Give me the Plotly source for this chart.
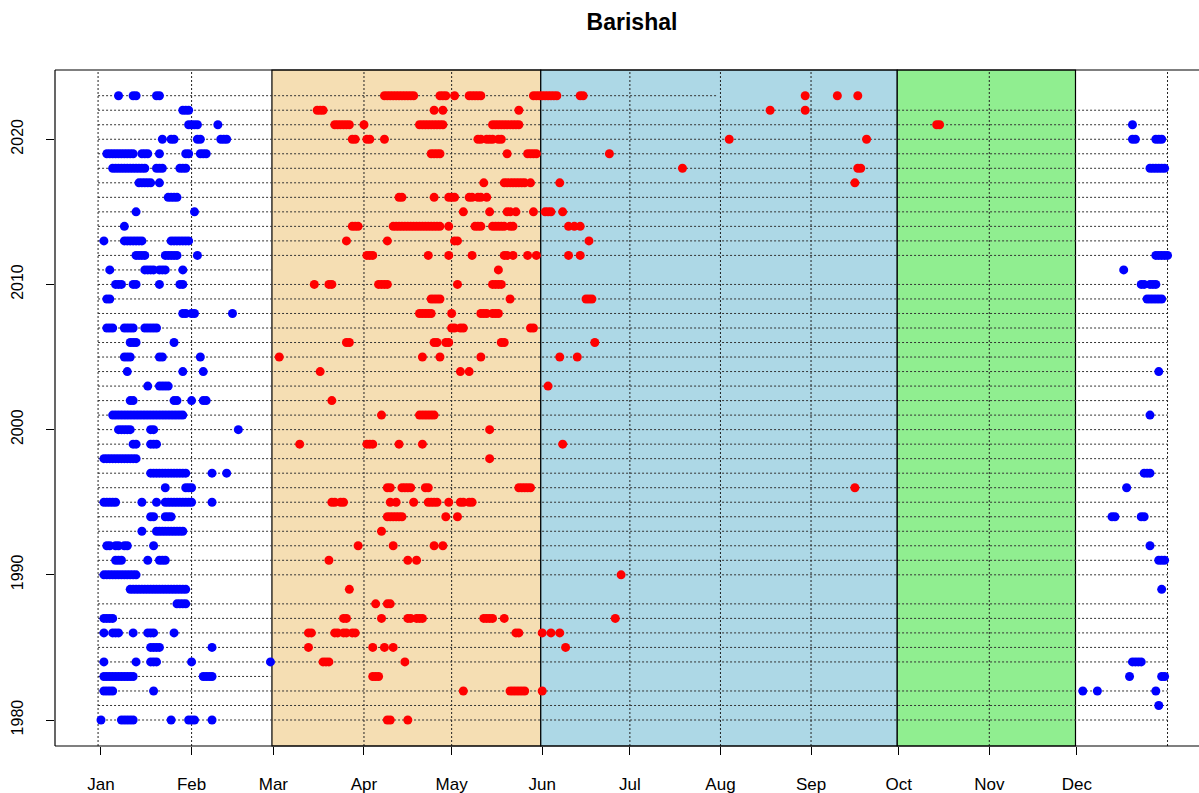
import plotly.graph_objects as go

# ---------------- data ----------------
# runs of consecutive event days: (year, first day-of-year, last day-of-year)
blue_runs = [
    (2023, 7, 7), (2023, 12, 13), (2023, 20, 21),
    (2022, 29, 31),
    (2021, 31, 34), (2021, 41, 41), (2021, 354, 354),
    (2020, 22, 22), (2020, 25, 26), (2020, 34, 35), (2020, 42, 44), (2020, 354, 355), (2020, 362, 364),
    (2019, 3, 12), (2019, 15, 17), (2019, 21, 21), (2019, 30, 31), (2019, 35, 37),
    (2018, 5, 16), (2018, 20, 22), (2018, 28, 30), (2018, 360, 365),
    (2017, 14, 18), (2017, 21, 21),
    (2016, 24, 27),
    (2015, 13, 13), (2015, 33, 33),
    (2014, 9, 9),
    (2013, 2, 2), (2013, 9, 15), (2013, 25, 31),
    (2012, 13, 16), (2012, 23, 27), (2012, 34, 34), (2012, 362, 366),
    (2011, 4, 4), (2011, 16, 19), (2011, 21, 23), (2011, 29, 29), (2011, 351, 351),
    (2010, 6, 8), (2010, 12, 13), (2010, 21, 21), (2010, 28, 29), (2010, 357, 358), (2010, 360, 362),
    (2009, 3, 4), (2009, 359, 364),
    (2008, 29, 30), (2008, 32, 33), (2008, 46, 46),
    (2007, 3, 5), (2007, 9, 12), (2007, 16, 20),
    (2006, 11, 13), (2006, 26, 26),
    (2005, 9, 11), (2005, 21, 22), (2005, 35, 35),
    (2004, 10, 10), (2004, 29, 29), (2004, 36, 36), (2004, 363, 363),
    (2003, 17, 17), (2003, 21, 24),
    (2002, 11, 12), (2002, 26, 27), (2002, 32, 32), (2002, 36, 37),
    (2001, 5, 29), (2001, 360, 360),
    (2000, 7, 11), (2000, 18, 19), (2000, 48, 48),
    (1999, 12, 13), (1999, 18, 20),
    (1998, 2, 13),
    (1997, 18, 30), (1997, 39, 39), (1997, 44, 44), (1997, 358, 360),
    (1996, 23, 23), (1996, 30, 32), (1996, 352, 352),
    (1995, 2, 6), (1995, 15, 15), (1995, 20, 20), (1995, 23, 32), (1995, 39, 39),
    (1994, 18, 19), (1994, 23, 25), (1994, 347, 348), (1994, 357, 358),
    (1993, 15, 15), (1993, 20, 29),
    (1992, 3, 4), (1992, 6, 7), (1992, 9, 10), (1992, 19, 19), (1992, 360, 360),
    (1991, 6, 8), (1991, 17, 17), (1991, 21, 23), (1991, 363, 365),
    (1990, 2, 13),
    (1989, 11, 30), (1989, 364, 364),
    (1988, 27, 30),
    (1987, 2, 5),
    (1986, 2, 2), (1986, 5, 7), (1986, 12, 12), (1986, 17, 19), (1986, 26, 26),
    (1985, 18, 21), (1985, 39, 39),
    (1984, 2, 2), (1984, 13, 13), (1984, 18, 20), (1984, 32, 32), (1984, 59, 59), (1984, 354, 357),
    (1983, 2, 12), (1983, 36, 39), (1983, 353, 353), (1983, 364, 365),
    (1982, 2, 5), (1982, 19, 19), (1982, 337, 337), (1982, 342, 342), (1982, 362, 362),
    (1981, 363, 363),
    (1980, 1, 1), (1980, 8, 12), (1980, 25, 25), (1980, 31, 33), (1980, 39, 39),
]

red_runs = [
    (2023, 98, 108), (2023, 117, 119), (2023, 122, 122), (2023, 127, 131), (2023, 149, 157),
    (2023, 165, 166), (2023, 242, 242), (2023, 253, 253), (2023, 260, 260),
    (2022, 75, 77), (2022, 115, 115), (2022, 118, 118), (2022, 144, 144), (2022, 230, 230), (2022, 242, 242),
    (2021, 81, 86), (2021, 91, 91), (2021, 110, 118), (2021, 135, 144), (2021, 287, 288),
    (2020, 87, 88), (2020, 92, 93), (2020, 98, 98), (2020, 130, 131), (2020, 133, 135), (2020, 137, 138),
    (2020, 216, 216), (2020, 263, 263),
    (2019, 114, 117), (2019, 140, 140), (2019, 147, 150), (2019, 175, 175),
    (2018, 200, 200), (2018, 260, 261),
    (2017, 132, 132), (2017, 139, 146), (2017, 148, 148), (2017, 158, 158), (2017, 259, 259),
    (2016, 103, 104), (2016, 115, 115), (2016, 120, 122), (2016, 127, 128), (2016, 130, 131), (2016, 133, 133),
    (2015, 125, 125), (2015, 134, 134), (2015, 140, 141), (2015, 143, 143), (2015, 149, 149),
    (2015, 153, 155), (2015, 159, 159),
    (2014, 87, 89), (2014, 101, 117), (2014, 120, 120), (2014, 129, 131), (2014, 135, 139),
    (2014, 141, 142), (2014, 161, 161), (2014, 163, 163), (2014, 165, 165),
    (2013, 85, 85), (2013, 99, 99), (2013, 122, 123), (2013, 168, 168),
    (2012, 92, 94), (2012, 113, 113), (2012, 120, 120), (2012, 128, 128), (2012, 139, 140),
    (2012, 142, 142), (2012, 147, 147), (2012, 150, 150), (2012, 161, 161), (2012, 165, 165),
    (2011, 137, 137),
    (2010, 74, 74), (2010, 79, 80), (2010, 96, 99), (2010, 123, 123), (2010, 135, 138),
    (2009, 114, 117), (2009, 141, 141), (2009, 167, 169),
    (2008, 110, 114), (2008, 121, 121), (2008, 131, 133), (2008, 135, 137),
    (2007, 121, 122), (2007, 124, 125), (2007, 148, 149),
    (2006, 85, 86), (2006, 115, 116), (2006, 119, 120), (2006, 138, 139), (2006, 170, 170),
    (2005, 62, 62), (2005, 111, 111), (2005, 117, 117), (2005, 131, 131), (2005, 158, 158), (2005, 164, 164),
    (2004, 76, 76), (2004, 124, 124), (2004, 127, 127),
    (2003, 154, 154),
    (2002, 80, 80),
    (2001, 97, 97), (2001, 110, 115),
    (2000, 134, 134),
    (1999, 69, 69), (1999, 92, 94), (1999, 103, 103), (1999, 111, 111), (1999, 159, 159),
    (1998, 134, 134),
    (1996, 99, 100), (1996, 104, 107), (1996, 112, 113), (1996, 144, 148), (1996, 259, 259),
    (1995, 80, 81), (1995, 83, 84), (1995, 100, 100), (1995, 102, 102), (1995, 108, 108),
    (1995, 113, 116), (1995, 120, 120), (1995, 124, 125), (1995, 127, 128),
    (1994, 99, 104), (1994, 119, 119), (1994, 123, 123),
    (1993, 97, 97),
    (1992, 89, 89), (1992, 101, 101), (1992, 115, 115), (1992, 118, 118),
    (1991, 79, 79), (1991, 106, 106), (1991, 109, 109),
    (1990, 179, 179),
    (1989, 86, 86),
    (1988, 95, 95), (1988, 99, 100),
    (1987, 84, 85), (1987, 97, 97), (1987, 106, 107), (1987, 109, 111), (1987, 132, 135),
    (1987, 139, 139), (1987, 177, 177),
    (1986, 72, 73), (1986, 81, 82), (1986, 84, 85), (1986, 87, 88), (1986, 143, 144),
    (1986, 152, 152), (1986, 155, 155), (1986, 158, 158),
    (1985, 72, 72), (1985, 94, 94), (1985, 98, 98), (1985, 101, 101), (1985, 160, 160),
    (1984, 77, 79), (1984, 105, 105),
    (1983, 94, 96),
    (1982, 125, 125), (1982, 141, 146), (1982, 152, 152),
    (1980, 99, 100), (1980, 106, 106),
]

years = list(range(1980, 2024))
# extent (first, last day) of each year's dotted guide line where it is not the full year
line_extent_exceptions = {1989: None, 1983: (0, 59), 2011: (0, 59), 2023: (0, 212)}

month_names = ["Jan", "Feb", "Mar", "Apr", "May", "Jun", "Jul", "Aug", "Sep", "Oct", "Nov", "Dec"]
month_days = [1, 32, 60, 91, 121, 152, 182, 213, 244, 274, 305, 335]
year_ticks = [1980, 1990, 2000, 2010, 2020]

season_edges = [59.5, 151.5, 273.5, 334.5]
season_colors = ["#F5DEB3", "#ADD8E6", "#90EE90"]
dotted_days = [0, 32, 91, 121, 182, 213, 244, 305, 366]


def expand(runs):
    xs, ys = [], []
    for yr, a, b in runs:
        for d in range(a, b + 1):
            xs.append(d)
            ys.append(yr)
    return xs, ys


bx, by = expand(blue_runs)
rx, ry = expand(red_runs)

fig = go.Figure()

shapes = []
for i, col in enumerate(season_colors):
    shapes.append(dict(type="rect", xref="x", yref="paper", x0=season_edges[i], x1=season_edges[i + 1],
                       y0=0, y1=1, fillcolor=col, line=dict(color="black", width=1.2), layer="below"))
for d in dotted_days:
    shapes.append(dict(type="line", xref="x", yref="paper", x0=d, x1=d, y0=0, y1=1,
                       line=dict(color="#222222", width=1, dash="2px,2px"), layer="below"))
for yr in years:
    ext = line_extent_exceptions.get(yr, (0, 366))
    if ext is None:
        continue
    shapes.append(dict(type="line", xref="x", yref="y", x0=ext[0], x1=ext[1], y0=yr, y1=yr,
                       line=dict(color="#333333", width=1, dash="2px,2px"), layer="below"))
# plot box (right side is outside the picture)
for x0, y0, x1, y1 in [(0, 0, 1, 0), (0, 1, 1, 1), (0, 0, 0, 1)]:
    shapes.append(dict(type="line", xref="paper", yref="paper", x0=x0, y0=y0, x1=x1, y1=y1,
                       line=dict(color="black", width=1.2), layer="above"))

fig.add_trace(go.Scatter(x=bx, y=by, mode="markers",
                         marker=dict(color="#0000FF", size=9, line=dict(width=0)), hoverinfo="skip"))
fig.add_trace(go.Scatter(x=rx, y=ry, mode="markers",
                         marker=dict(color="#FF0000", size=9, line=dict(width=0)), hoverinfo="skip"))

fig.update_layout(
    width=1199, height=793,
    margin=dict(l=55, r=0, t=70, b=47, autoexpand=False),
    paper_bgcolor="white", plot_bgcolor="white",
    showlegend=False,
    shapes=shapes,
    title=dict(text="<b>Barishal</b>", x=632 / 1199, xanchor="center", y=1 - 22 / 793, yanchor="middle",
               font=dict(family="Liberation Sans, Arial, sans-serif", size=23, color="black")),
    xaxis=dict(range=[-14.74, 376.77], tickmode="array", tickvals=month_days, ticktext=month_names,
               ticks="outside", ticklen=8, tickcolor="black", tickwidth=1, automargin=False,
               showgrid=False, zeroline=False, showline=False, ticklabelstandoff=15,
               tickfont=dict(family="Liberation Sans, Arial, sans-serif", size=17, color="black")),
    yaxis=dict(range=[1978.21, 2024.77], tickmode="array", tickvals=year_ticks,
               ticks="outside", ticklen=8, tickcolor="black", tickwidth=1, tickangle=-90, automargin=False,
               showgrid=False, zeroline=False, showline=False, ticklabelstandoff=17,
               tickfont=dict(family="Liberation Sans, Arial, sans-serif", size=16, color="black")),
)

fig.write_html(
    "out.html",
    config={"displayModeBar": False},
    post_script="document.body.style.margin='0';document.body.style.padding='0';"
                "document.documentElement.style.overflow='hidden';",
)
